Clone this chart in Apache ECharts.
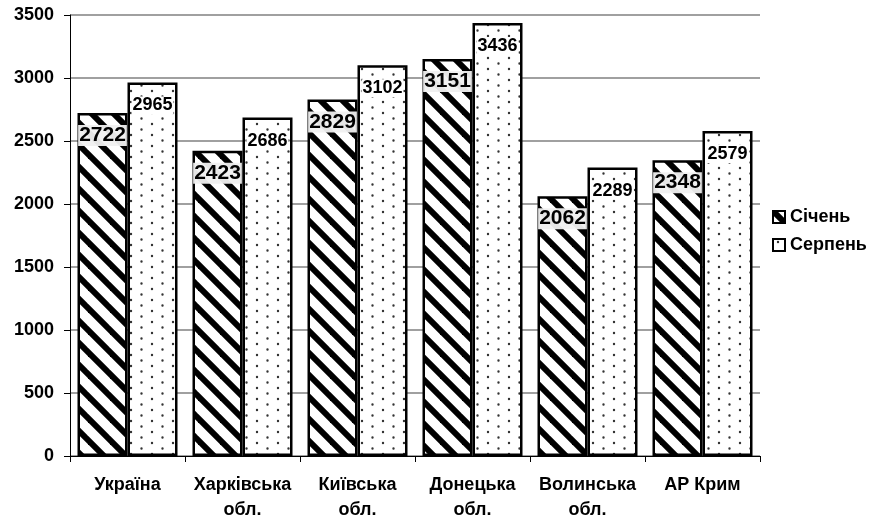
<!DOCTYPE html>
<html>
<head>
<meta charset="utf-8">
<script src="https://cdn.jsdelivr.net/npm/echarts@6/dist/echarts.min.js"></script>
<style>
  html, body { margin: 0; padding: 0; background: #fff; }
  #chart { width: 872px; height: 517px; }
</style>
</head>
<body>
<div id="chart"></div>
<script>
const categories = ["Україна", "Харківська\nобл.", "Київська\nобл.", "Донецька\nобл.", "Волинська\nобл.", "АР Крим"];
const january = [2722, 2423, 2829, 3151, 2062, 2348];
const august = [2965, 2686, 3102, 3436, 2289, 2579];
const seriesNames = ["Січень", "Серпень"];

// diagonal stripes "\" for Січень
function stripes() {
  const s = 22;
  const c = document.createElement("canvas");
  c.width = s;
  c.height = s;
  const ctx = c.getContext("2d");
  ctx.fillStyle = "#fff";
  ctx.fillRect(0, 0, s, s);
  ctx.strokeStyle = "#000";
  ctx.lineWidth = 6;
  for (const x0 of [-s, 0, s]) {
    ctx.beginPath();
    ctx.moveTo(x0 - s, -s);
    ctx.lineTo(x0 + 2 * s, 2 * s);
    ctx.stroke();
  }
  return c;
}

// staggered dots for Серпень
function dots() {
  const w = 21, h = 11;
  const c = document.createElement("canvas");
  c.width = w;
  c.height = h;
  const ctx = c.getContext("2d");
  ctx.fillStyle = "#fff";
  ctx.fillRect(0, 0, w, h);
  ctx.fillStyle = "#333";
  ctx.beginPath();
  ctx.arc(5, 3, 1.2, 0, Math.PI * 2);
  ctx.arc(15.5, 8.5, 1.2, 0, Math.PI * 2);
  ctx.fill();
  return c;
}

const font = "Liberation Sans, Arial, sans-serif";
const chart = echarts.init(document.getElementById("chart"));

chart.setOption({
  backgroundColor: "#fff",
  animation: false,
  textStyle: { fontFamily: font },
  grid: { left: 70, right: 112, top: 15, bottom: 61, outerBoundsMode: "none" },
  legend: {
    orient: "vertical",
    left: 772,
    top: 208,
    padding: 0,
    itemWidth: 12,
    itemHeight: 12,
    itemGap: 10,
    icon: "rect",
    textStyle: { fontFamily: font, fontWeight: "bold", fontSize: 18, color: "#000" },
    data: seriesNames
  },
  xAxis: {
    type: "category",
    data: categories,
    axisLine: { lineStyle: { color: "#000", width: 1 } },
    axisTick: { show: true, interval: 0, length: 6, lineStyle: { color: "#000" } },
    axisLabel: {
      interval: 0,
      margin: 17,
      fontFamily: font,
      fontWeight: "bold",
      fontSize: 18,
      lineHeight: 25,
      color: "#000"
    }
  },
  yAxis: {
    type: "value",
    min: 0,
    max: 3500,
    interval: 500,
    axisLine: { show: true, lineStyle: { color: "#000", width: 1 } },
    axisTick: { show: true, length: 6, lineStyle: { color: "#000" } },
    splitLine: { lineStyle: { color: "#808080", width: 1.5 } },
    axisLabel: {
      margin: 16,
      fontFamily: font,
      fontWeight: "bold",
      fontSize: 18,
      color: "#000",
      formatter: v => String(v)
    }
  },
  series: [
    {
      name: seriesNames[0],
      type: "bar",
      data: january,
      barWidth: 50,
      barGap: "0%",
      itemStyle: {
        color: { image: stripes(), repeat: "repeat" },
        borderColor: "#000",
        borderWidth: 2.5
      },
      label: {
        show: true,
        position: "insideTop",
        distance: 12,
        fontFamily: font,
        fontWeight: "bold",
        fontSize: 21,
        color: "#000",
        backgroundColor: "rgba(240,240,240,0.95)",
        padding: [0, 1]
      }
    },
    {
      name: seriesNames[1],
      type: "bar",
      data: august,
      barWidth: 50,
      barGap: "0%",
      itemStyle: {
        color: { image: dots(), repeat: "repeat" },
        borderColor: "#000",
        borderWidth: 2.5
      },
      label: {
        show: true,
        position: "insideTop",
        distance: 14,
        fontFamily: font,
        fontWeight: "bold",
        fontSize: 18,
        color: "#000",
        backgroundColor: "#fff",
        padding: [0, 1]
      }
    }
  ]
});
</script>
</body>
</html>
